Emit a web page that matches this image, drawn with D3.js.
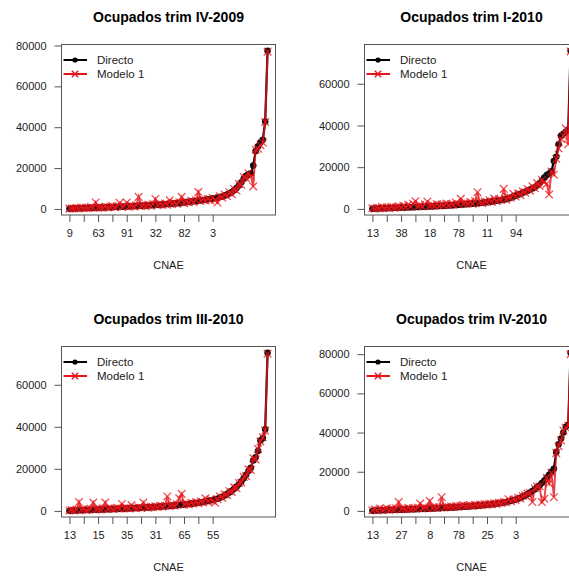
<!DOCTYPE html>
<html>
<head>
<meta charset="utf-8">
<script src="https://cdn.jsdelivr.net/npm/d3@7/dist/d3.min.js"></script>
<style>
  html, body { margin: 0; padding: 0; background: #fff; }
  svg { display: block; font-family: "Liberation Sans", Arial, sans-serif; }
</style>
</head>
<body>
<svg id="chart" width="569" height="579"></svg>
<script>
// ---------- data ----------
const titles = ["Ocupados trim IV-2009", "Ocupados trim I-2010", "Ocupados trim III-2010", "Ocupados trim IV-2010"];
const seriesNames = ["Directo", "Modelo 1"];
const xAxisTitle = "CNAE";
const yTicks = [0, 20000, 40000, 60000, 80000];

const tickLabelsIV2009 = ["9", "", "63", "", "91", "", "32", "", "82", "", "3"];
const tickLabelsI2010  = ["13", "", "38", "", "18", "", "78", "", "11", "", "94"];
const tickLabelsIII2010 = ["13", "", "15", "", "35", "", "31", "", "65", "", "55"];
const tickLabelsIV2010 = ["13", "", "27", "", "8", "", "78", "", "25", "", "3"];
const tickIndices = [0, 6, 12, 18, 24, 30, 36, 42, 48, 54, 60];

const directoIV2009 = [
  120, 180, 230, 280, 320, 360, 400, 440, 480, 520,
  560, 600, 640, 680, 720, 760, 800, 850, 900, 950,
  1000, 1050, 1100, 1150, 1200, 1260, 1320, 1380, 1440, 1500,
  1560, 1620, 1690, 1760, 1830, 1900, 1980, 2060, 2140, 2220,
  2300, 2400, 2500, 2600, 2700, 2800, 2920, 3050, 3180, 3320,
  3460, 3600, 3750, 3900, 4050, 4200, 4350, 4500, 4680, 4860,
  5050, 5250, 5500, 5800, 6100, 6500, 7000, 7600, 8300, 9100,
  10200, 11500, 13000, 14800, 16200, 16900, 17400, 21200, 28300, 30600,
  32500, 33900, 42800, 77400];
const modeloIV2009 = [
  150, 300, 180, 450, 250, 700, 350, 600, 400, 900,
  500, 3200, 550, 800, 600, 1200, 700, 1000, 1400, 800,
  1300, 3000, 900, 1400, 3100, 1100, 1600, 1200, 1800, 5900,
  1300, 1900, 1500, 2100, 1600, 2400, 4900, 1800, 2600, 2000,
  2700, 2100, 4200, 2400, 3000, 2500, 3300, 5900, 2800, 3600,
  3200, 4000, 3400, 4300, 8300, 3900, 4700, 4100, 5000, 4300,
  5400, 4500, 3100, 6200, 5600, 7100, 6300, 8200, 7200, 9800,
  9000, 12200, 11800, 15600, 15000, 17500, 16000, 11000, 29000, 29500,
  31200, 32500, 42500, 77000];

const directoI2010 = [
  100, 150, 200, 250, 300, 340, 380, 420, 460, 500,
  540, 580, 620, 660, 700, 740, 780, 820, 870, 920,
  970, 1020, 1070, 1120, 1170, 1220, 1280, 1340, 1400, 1460,
  1520, 1580, 1650, 1720, 1800, 1880, 1960, 2050, 2140, 2230,
  2320, 2420, 2520, 2620, 2720, 2850, 2980, 3110, 3250, 3400,
  3550, 3700, 3870, 4050, 4250, 4460, 4680, 5000, 5400, 5800,
  6300, 6800, 7200, 7700, 8200, 8700, 9300, 9800, 10400, 11200,
  12300, 13600, 15000, 16200, 17000, 18000, 23000, 25000, 31000, 35000,
  36000, 37000, 38000, 75800];
const modeloI2010 = [
  300, 120, 600, 250, 900, 400, 700, 350, 1000, 600,
  800, 1300, 700, 1500, 900, 2000, 1100, 2500, 3700, 1200,
  1800, 1100, 2200, 3500, 1300, 1900, 1500, 2400, 1600, 2100,
  1900, 2600, 1700, 2300, 2000, 3100, 2200, 4800, 2500, 3000,
  2600, 3300, 2400, 3800, 8000, 3100, 2700, 3600, 3300, 4200,
  3400, 5000, 3700, 4600, 4300, 9600, 4400, 5600, 5300, 7200,
  5900, 7500, 6600, 8400, 7800, 9500, 8700, 10800, 9900, 12400,
  11000, 13900, 12800, 12000, 6900, 17900, 16400, 24000, 29000, 33500,
  35000, 38500, 31000, 75500];

const directoIII2010 = [
  100, 160, 210, 260, 300, 340, 380, 420, 460, 500,
  540, 580, 620, 660, 700, 740, 780, 820, 860, 900,
  950, 1000, 1050, 1100, 1150, 1200, 1250, 1300, 1360, 1420,
  1480, 1540, 1600, 1660, 1720, 1800, 1880, 1960, 2040, 2120,
  2200, 2300, 2400, 2500, 2600, 2700, 2800, 2920, 3040, 3160,
  3300, 3450, 3600, 3750, 3900, 4050, 4250, 4450, 4700, 4950,
  5200, 5500, 5800, 6200, 6700, 7300, 8000, 8800, 9600, 10500,
  11500, 12700, 14000, 15500, 17200, 19000, 20500, 24000, 25500, 28500,
  33500, 34500, 38800, 75200];
const modeloIII2010 = [
  200, 400, 150, 600, 4200, 500, 800, 350, 700, 1000,
  4000, 600, 900, 700, 1200, 4000, 800, 1300, 900, 1100,
  1500, 1000, 3300, 1200, 1400, 1100, 2800, 1500, 1300, 1700,
  1400, 4000, 1800, 1500, 2000, 1700, 2200, 1800, 2500, 2000,
  2400, 6900, 2300, 2800, 2500, 3100, 6000, 8100, 2900, 3500,
  3100, 3900, 3400, 4200, 3700, 4500, 4000, 6000, 4400, 5400,
  4800, 3900, 5600, 6900, 6300, 7900, 7500, 9400, 9000, 11200,
  10800, 13300, 13500, 16200, 16500, 19800, 19500, 25000, 24500, 29500,
  33000, 35000, 38200, 74800];

const directoIV2010 = [
  120, 180, 240, 290, 340, 380, 420, 460, 500, 540,
  580, 620, 660, 700, 740, 780, 820, 860, 900, 950,
  1000, 1050, 1100, 1150, 1200, 1250, 1300, 1360, 1420, 1480,
  1540, 1600, 1670, 1740, 1810, 1880, 1960, 2040, 2120, 2200,
  2280, 2380, 2480, 2580, 2680, 2780, 2900, 3020, 3140, 3260,
  3400, 3550, 3700, 3900, 4100, 4300, 4550, 4800, 5100, 5400,
  5800, 6200, 6700, 7300, 7900, 8600, 9400, 10200, 11000, 12000,
  13000, 14200, 15500, 17000, 18500, 20000, 21500, 30000, 34000, 37000,
  40000, 43000, 44000, 80700];
const modeloIV2010 = [
  300, 900, 200, 1200, 500, 800, 1400, 600, 1000, 700,
  1300, 4500, 800, 1100, 900, 1600, 1000, 1400, 1200, 1700,
  3800, 1200, 1600, 1400, 5000, 1500, 1900, 1600, 2000, 7000,
  1700, 2100, 1900, 2300, 2000, 2500, 2100, 2600, 3000, 2400,
  2600, 2900, 2500, 3100, 2800, 3300, 3000, 3500, 3200, 3700,
  3300, 3900, 3600, 4200, 4000, 4600, 4400, 6000, 4900, 5800,
  5600, 6700, 6400, 7600, 8000, 8900, 9200, 4500, 11500, 12400,
  12500, 4500, 6200, 16800, 14000, 19500, 7000, 29500, 33000, 36000,
  41000, 42500, 43500, 80000];

// ---------- layout ----------
const panels = [
  { title: titles[0], d: directoIV2009,  m: modeloIV2009,  labels: tickLabelsIV2009,  left: 61.5,  top: 44.5 },
  { title: titles[1], d: directoI2010,   m: modeloI2010,   labels: tickLabelsI2010,   left: 364.5, top: 44.5 },
  { title: titles[2], d: directoIII2010, m: modeloIII2010, labels: tickLabelsIII2010, left: 61.5,  top: 346.5 },
  { title: titles[3], d: directoIV2010,  m: modeloIV2010,  labels: tickLabelsIV2010,  left: 364.5, top: 346.5 },
];
const boxW = 214, boxH = 170.5;
const svg = d3.select("#chart");
const axisColor = "#555";
const textColor = "#222";
const redCol = "#e8141a";

panels.forEach(p => {
  const g = svg.append("g");
  const n = p.d.length;
  const xpad = (n - 1) * 0.04;
  const x = d3.scaleLinear().domain([-xpad, n - 1 + xpad]).range([p.left, p.left + boxW]);
  const lo = Math.min(d3.min(p.d), d3.min(p.m));
  const hi = Math.max(d3.max(p.d), d3.max(p.m));
  const ypad = (hi - lo) * 0.04;
  const y = d3.scaleLinear().domain([lo - ypad, hi + ypad]).range([p.top + boxH, p.top]);

  // title
  g.append("text")
    .attr("x", p.left + boxW / 2).attr("y", p.top - 23)
    .attr("text-anchor", "middle")
    .attr("font-size", "14px").attr("font-weight", "bold").attr("fill", "#000")
    .text(p.title);

  // y axis
  const yt = yTicks.filter(v => v >= y.domain()[0] && v <= y.domain()[1]);
  const yAxis = d3.axisLeft(y).tickValues(yt).tickSize(7).tickPadding(8).tickFormat(d3.format("d"));
  const ya = g.append("g").attr("transform", `translate(${p.left},0)`).call(yAxis);
  ya.select(".domain").remove();
  ya.selectAll("line").attr("stroke", axisColor);
  ya.selectAll("text").attr("font-size", "11px").attr("fill", textColor)
    .attr("font-family", "Liberation Sans, Arial, sans-serif");

  // x axis
  const xAxis = d3.axisBottom(x).tickValues(tickIndices).tickSize(7).tickPadding(7)
    .tickFormat((v, i) => p.labels[i]);
  const xa = g.append("g").attr("transform", `translate(0,${p.top + boxH})`).call(xAxis);
  xa.select(".domain").remove();
  xa.selectAll("line").attr("stroke", axisColor);
  xa.selectAll("text").attr("font-size", "11px").attr("fill", textColor)
    .attr("font-family", "Liberation Sans, Arial, sans-serif");

  // x title
  g.append("text")
    .attr("x", p.left + boxW / 2).attr("y", p.top + boxH + 54)
    .attr("text-anchor", "middle").attr("font-size", "11px").attr("fill", textColor)
    .text(xAxisTitle);

  // box
  g.append("rect").attr("x", p.left).attr("y", p.top).attr("width", boxW).attr("height", boxH)
    .attr("fill", "none").attr("stroke", axisColor).attr("stroke-width", 1);

  const line = d3.line().x((v, i) => x(i)).y(v => y(v));

  // Directo
  g.append("path").datum(p.d).attr("d", line)
    .attr("fill", "none").attr("stroke", "#000").attr("stroke-width", 2.2);
  g.append("g").selectAll("circle").data(p.d).join("circle")
    .attr("cx", (v, i) => x(i)).attr("cy", v => y(v)).attr("r", 3.3).attr("fill", "#111");

  // Modelo 1
  g.append("path").datum(p.m).attr("d", line)
    .attr("fill", "none").attr("stroke", redCol).attr("stroke-width", 1.9).attr("stroke-opacity", 0.8);
  const s = 3.8;
  g.append("g").selectAll("path").data(p.m).join("path")
    .attr("d", (v, i) => {
      const cx = x(i), cy = y(v);
      return `M${cx - s},${cy - s}L${cx + s},${cy + s}M${cx - s},${cy + s}L${cx + s},${cy - s}`;
    })
    .attr("stroke", redCol).attr("stroke-width", 1.3).attr("stroke-opacity", 0.75).attr("fill", "none");

  // legend
  const ls = 3.2;
  const lg = g.append("g");
  const rows = [p.top + 15.5, p.top + 29.5];
  const lx0 = p.left + 2, lx1 = p.left + 25.5, lmid = p.left + 13.5;
  lg.append("line").attr("x1", lx0).attr("x2", lx1).attr("y1", rows[0]).attr("y2", rows[0])
    .attr("stroke", "#000").attr("stroke-width", 2);
  lg.append("circle").attr("cx", lmid).attr("cy", rows[0]).attr("r", 2.6).attr("fill", "#000");
  lg.append("line").attr("x1", lx0).attr("x2", lx1).attr("y1", rows[1]).attr("y2", rows[1])
    .attr("stroke", redCol).attr("stroke-width", 2);
  lg.append("path")
    .attr("d", `M${lmid - ls},${rows[1] - ls}L${lmid + ls},${rows[1] + ls}M${lmid - ls},${rows[1] + ls}L${lmid + ls},${rows[1] - ls}`)
    .attr("stroke", redCol).attr("stroke-width", 1.4);
  seriesNames.forEach((name, i) => {
    lg.append("text").attr("x", p.left + 35.5).attr("y", rows[i]).attr("dy", "0.35em")
      .attr("font-size", "11.5px").attr("fill", textColor).text(name);
  });
});
</script>
</body>
</html>
